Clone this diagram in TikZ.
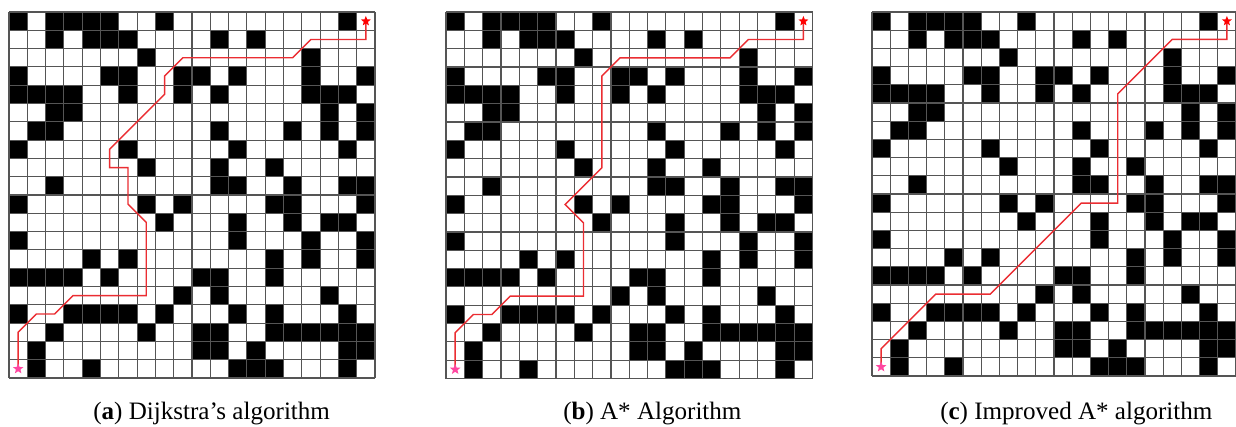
\documentclass[tikz,border=0pt]{standalone}
\usepackage{fontspec}
\setmainfont{Liberation Serif}
\usetikzlibrary{shapes.geometric}
\definecolor{pathred}{RGB}{235,45,50}
\definecolor{startpink}{RGB}{255,70,160}
\definecolor{gridgray}{RGB}{85,85,85}
\tikzset{
  obstacle/.style={fill=black},
  gridline/.style={draw=gridgray, line width=0.8pt},
  route/.style={draw=pathred, line width=1.05pt, line join=miter},
  goalstar/.style={star, star points=5, star point ratio=2.3, fill=red, inner sep=0pt, minimum size=7.8pt},
  startstar/.style={star, star points=5, star point ratio=2.3, fill=startpink, inner sep=0pt, minimum size=8.2pt},
  captiontext/.style={anchor=base west, inner sep=0pt, font=\fontsize{18.8pt}{22pt}\selectfont},
}
\newcommand\obstaclemap{%
  \foreach \r/\cols in {0/{0,2,3,4,5,8,18},1/{2,4,5,6,11,13},2/{7,16},3/{0,5,6,9,10,12,16,19},
    4/{0,1,2,3,6,9,11,16,17,18},5/{2,3,17,19},6/{1,2,11,15,17,19},7/{0,6,12,18},8/{7,11,14},
    9/{2,11,12,15,18,19},10/{0,7,9,14,15,19},11/{8,12,15,17,18},12/{0,12,16,19},13/{4,6,14,16,19},
    14/{0,1,2,3,5,10,11,14},15/{9,11,17},16/{0,3,4,5,6,8,12,14,18},17/{2,7,10,11,14,15,16,17,18,19},
    18/{1,10,11,13,18,19},19/{1,4,12,13,14,18}}{%
    \foreach \c in \cols {\fill[obstacle] (\c,\r) rectangle ++(1,1);}%
  }%
  \foreach \i in {0,...,20}{%
    \draw[gridline] (\i,0) -- (\i,20);
    \draw[gridline] (0,\i) -- (20,\i);
  }%
}
\begin{document}
\begin{tikzpicture}[x=0.75pt,y=-0.75pt]
\useasboundingbox[fill=white] (0,0) rectangle (1236,426);

% (a) Dijkstra
\begin{scope}[shift={(9,12)},x=13.725pt,y=-13.725pt]
  \obstaclemap
  \coordinate (goalA) at (19.5,0.5);
  \coordinate (startA) at (0.5,19.5);
  \draw[route] (goalA) -- (19.5,1.5) -- (16.5,1.5) -- (15.5,2.5) -- (9.5,2.5) -- (8.5,3.5) -- (8.5,4.5)
    -- (5.5,7.5) -- (5.5,8.5) -- (6.5,8.5) -- (6.5,10.5) -- (7.5,11.5) -- (7.5,15.5) -- (3.5,15.5)
    -- (2.5,16.5) -- (1.5,16.5) -- (0.5,17.5) -- (startA);
  \node[goalstar] (goalstarA) at (goalA) {};
  \node[startstar] (startstarA) at (startA) {};
\end{scope}

% (b) A*
\begin{scope}[shift={(446,12)},x=13.7475pt,y=-13.7475pt]
  \obstaclemap
  \coordinate (goalB) at (19.5,0.5);
  \coordinate (startB) at (0.5,19.5);
  \draw[route] (goalB) -- (19.5,1.5) -- (16.5,1.5) -- (15.5,2.5) -- (9.5,2.5) -- (8.5,3.5) -- (8.5,8.5)
    -- (6.5,10.5) -- (7.5,11.5) -- (7.5,15.5) -- (3.5,15.5)
    -- (2.5,16.5) -- (1.5,16.5) -- (0.5,17.5) -- (startB);
  \node[goalstar] (goalstarB) at (goalB) {};
  \node[startstar] (startstarB) at (startB) {};
\end{scope}

% (c) Improved A*
\begin{scope}[shift={(872,12)},x=13.65pt,y=-13.65pt]
  \obstaclemap
  \coordinate (goalC) at (19.5,0.5);
  \coordinate (startC) at (0.5,19.5);
  \draw[route] (goalC) -- (19.5,1.5) -- (16.5,1.5) -- (13.5,4.5) -- (13.5,10.5) -- (11.5,10.5)
    -- (6.5,15.5) -- (3.5,15.5) -- (0.5,18.5) -- (startC);
  \node[goalstar] (goalstarC) at (goalC) {};
  \node[startstar] (startstarC) at (startC) {};
\end{scope}

\node[captiontext] (capA) at (93,419) {(\textbf{a}) Dijkstra’s algorithm};
\node[captiontext] (capB) at (563,419) {(\textbf{b}) A* Algorithm};
\node[captiontext] (capC) at (940,419) {(\textbf{c}) Improved A* algorithm};
\end{tikzpicture}
\end{document}
